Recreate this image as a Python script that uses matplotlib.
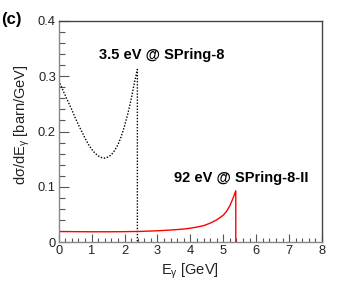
import matplotlib
matplotlib.use("Agg")
import matplotlib.pyplot as plt
from matplotlib.ticker import MultipleLocator

plt.rcParams['font.family'] = ['Liberation Sans', 'DejaVu Sans']
plt.rcParams['mathtext.fontset'] = 'custom'
plt.rcParams['mathtext.rm'] = 'Liberation Sans'
plt.rcParams['mathtext.it'] = 'Liberation Sans'

# Black dotted: 3.5 eV @ SPring-8
e_spring8 = [0.0, 0.1, 0.2, 0.3, 0.4, 0.5, 0.6, 0.7, 0.8, 0.9, 1.0, 1.1, 1.2, 1.3, 1.4,
             1.5, 1.6, 1.7, 1.8, 1.9, 2.0, 2.1, 2.2, 2.3, 2.39]
xs_spring8 = [0.292, 0.278, 0.265, 0.252, 0.239, 0.225, 0.212, 0.200, 0.188, 0.177,
              0.168, 0.161, 0.156, 0.153, 0.152, 0.154, 0.158, 0.166, 0.176, 0.191,
              0.210, 0.232, 0.258, 0.288, 0.312]
emax_spring8 = 2.39

# Red solid: 92 eV @ SPring-8-II
e_spring8ii = [0.0, 0.5, 1.0, 1.5, 2.0, 2.5, 3.0, 3.5, 3.8, 4.0, 4.2, 4.4, 4.6, 4.8,
               5.0, 5.1, 5.2, 5.3, 5.38]
xs_spring8ii = [0.0195, 0.0192, 0.0190, 0.0190, 0.0192, 0.0197, 0.0208, 0.0225, 0.0240,
                0.0255, 0.0275, 0.0300, 0.0345, 0.0405, 0.0490, 0.0560, 0.0660, 0.0800,
                0.0930]
emax_spring8ii = 5.38

label1 = "3.5 eV @ SPring-8"
label2 = "92 eV @ SPring-8-II"

fig = plt.figure(figsize=(3.47, 2.86), dpi=100)
ax = fig.add_axes([0.1692, 0.1528, 0.7588, 0.7748])

ax.plot(e_spring8 + [emax_spring8], xs_spring8 + [0.0], color='black',
        linestyle=(0, (1, 1.2)), linewidth=1.0)
ax.plot(e_spring8ii + [emax_spring8ii], xs_spring8ii + [0.0], color='#ff0000',
        linewidth=1.0)

ax.set_xlim(0, 8)
ax.set_ylim(0, 0.4)
ax.xaxis.set_minor_locator(MultipleLocator(0.2))
ax.yaxis.set_minor_locator(MultipleLocator(0.02))
ax.set_xticks(range(0, 9))
ax.set_xticklabels([str(i) for i in range(0, 9)])
ax.set_yticks([0, 0.1, 0.2, 0.3, 0.4])
ax.set_yticklabels(['0', '0.1', '0.2', '0.3', '0.4'])

ax.tick_params(which='both', direction='in', top=False, right=False,
               color='#555555', labelsize=9.3, labelcolor='#222222', pad=2)
ax.tick_params(which='major', length=6, width=0.8)
ax.tick_params(which='minor', length=3, width=0.8)
ax.tick_params(axis='y', which='major', length=7)
ax.tick_params(axis='y', which='minor', length=4)

for s in ['left', 'bottom']:
    ax.spines[s].set_color('#888888')
    ax.spines[s].set_linewidth(1.0)
for s in ['top', 'right']:
    ax.spines[s].set_color('#444444')
    ax.spines[s].set_linewidth(1.0)

ax.set_xlabel(r'E$_{\mathregular{γ}}$ [GeV]', fontsize=10.5, color='#222222', labelpad=3)
ax.set_ylabel(r'dσ/dE$_{\mathregular{γ}}$ [barn/GeV]', fontsize=10.5, color='#222222')
ax.yaxis.set_label_coords(-0.10, 0.53)

ax.text(1.23, 0.331, label1, fontsize=10.5, fontweight='bold', ha='left', va='baseline')
ax.text(3.50, 0.1085, label2, fontsize=10.5, fontweight='bold', ha='left', va='baseline')

fig.text(0.002, 1 - 24 / 286, '(c)', fontsize=12, fontweight='bold', ha='left',
         va='baseline')

fig.savefig('out.png', dpi=100)
